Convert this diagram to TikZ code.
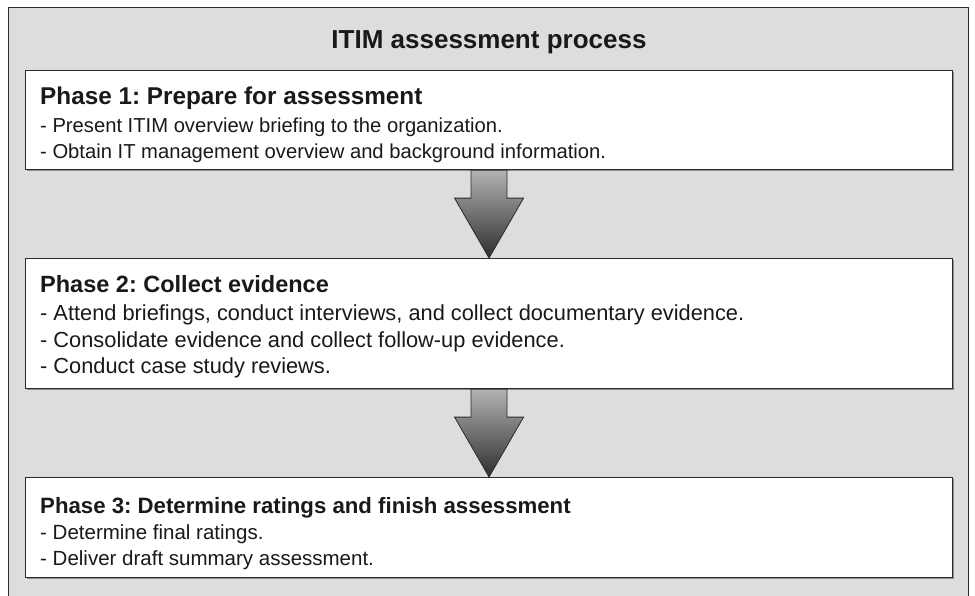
\documentclass[tikz,border=0pt]{standalone}
\usepackage{fontspec}
\setmainfont{Liberation Sans}
\frenchspacing
\usetikzlibrary{calc,shadows}
\definecolor{bggray}{HTML}{DCDDDF}
\definecolor{edge}{HTML}{2B2B2B}
\definecolor{shadowgray}{HTML}{8C8C8C}
\tikzset{
  phasebox/.style={draw=edge, line width=1.1pt, fill=white, inner sep=0pt, anchor=north west,
    drop shadow={shadow xshift=1.6pt, shadow yshift=-1.6pt, fill=shadowgray, opacity=1}},
  txt/.style={anchor=base west, inner sep=0pt, text=black!90},
  headone/.style={txt, font=\fontsize{24.3}{28}\selectfont\bfseries},
  headtwo/.style={txt, font=\fontsize{23.5}{28}\selectfont\bfseries},
  headthree/.style={txt, font=\fontsize{22.2}{26}\selectfont\bfseries},
  bodyone/.style={txt, font=\fontsize{20.2}{24}\selectfont},
  bodytwo/.style={txt, font=\fontsize{21.8}{25}\selectfont},
  bodythree/.style={txt, font=\fontsize{20.5}{24}\selectfont},
  arrowfill/.style={draw=edge, line width=0.8pt, top color=black!30, bottom color=black!82},
}
\begin{document}
\begin{tikzpicture}[x=1pt,y=-1pt]
\useasboundingbox (0,0) rectangle (975,595);
\clip (0,0) rectangle (975,595);
% outer frame
\node[draw=edge, line width=1.1pt, fill=bggray, anchor=north west, inner sep=0pt,
  minimum width=960pt, minimum height=600pt] (frame) at (8,7) {};
\node[anchor=base, inner sep=0pt, font=\fontsize{26}{30}\selectfont\bfseries, text=black!90] (title) at (489,48) {ITIM assessment process};
% boxes
\node[phasebox, minimum width=927pt, minimum height=99pt] (p1) at (25,70) {};
\node[phasebox, minimum width=927pt, minimum height=130pt] (p2) at (25,258) {};
\node[phasebox, minimum width=927pt, minimum height=100pt] (p3) at (25,477) {};
% texts
\node[headone] (h1) at (40,104) {Phase 1: Prepare for assessment};
\node[bodyone] (a1) at (40,132) {- Present ITIM overview briefing to the organization.};
\node[bodyone] (a2) at (40,158) {- Obtain IT management overview and background information.};
\node[headtwo] (h2) at (40,292) {Phase 2: Collect evidence};
\node[bodytwo] (b1) at (40,320) {- Attend briefings, conduct interviews, and collect documentary evidence.};
\node[bodytwo] (b2) at (40,347) {- Consolidate evidence and collect follow-up evidence.};
\node[bodytwo] (b3) at (40,373) {- Conduct case study reviews.};
\node[headthree] (h3) at (40,513) {Phase 3: Determine ratings and finish assessment};
\node[bodythree] (c1) at (40,539) {- Determine final ratings.};
\node[bodythree] (c2) at (40,565) {- Deliver draft summary assessment.};
% arrows
\shade[arrowfill] ($(p1.south)+(-18,0)$) -- ($(p1.south)+(18,0)$) -- ($(p1.south)+(18,28)$)
  -- ($(p1.south)+(34.5,28)$) -- (p2.north) -- ($(p1.south)+(-34.5,28)$) -- ($(p1.south)+(-18,28)$) -- cycle;
\shade[arrowfill] ($(p2.south)+(-18,0)$) -- ($(p2.south)+(18,0)$) -- ($(p2.south)+(18,28)$)
  -- ($(p2.south)+(34.5,28)$) -- (p3.north) -- ($(p2.south)+(-34.5,28)$) -- ($(p2.south)+(-18,28)$) -- cycle;
\end{tikzpicture}
\end{document}
